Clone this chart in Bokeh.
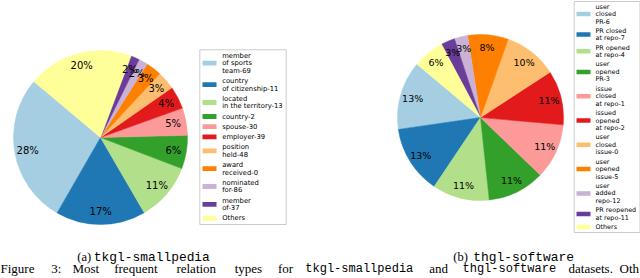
import math
from bokeh.plotting import figure
from bokeh.models import Range1d, ColumnDataSource
from bokeh.core.properties import value
from bokeh.embed import file_html
from bokeh.resources import INLINE
from bokeh.palettes import Paired12

# ---------------- data ----------------
left_labels = [
    "member\nof sports\nteam-69",
    "country\nof citizenship-11",
    "located\nin the territory-13",
    "country-2",
    "spouse-30",
    "employer-39",
    "position\nheld-48",
    "award\nreceived-0",
    "nominated\nfor-86",
    "member\nof-37",
    "Others",
]
left_values = [27.8, 16.7, 10.8, 6.2, 5.1, 4.2, 3.4, 2.9, 1.7, 1.6, 19.6]

right_labels = [
    "user\nclosed\nPR-6",
    "PR closed\nat repo-7",
    "PR opened\nat repo-4",
    "user\nopened\nPR-3",
    "issue\nclosed\nat repo-1",
    "issued\nopened\nat repo-2",
    "user\nclosed\nissue-0",
    "user\nopened\nissue-5",
    "user\nadded\nrepo-12",
    "PR reopened\nat repo-11",
    "Others",
]
right_values = [13.4, 13.3, 11.1, 11.1, 10.8, 10.6, 10.4, 7.9, 2.6, 2.7, 6.1]

caption_prefixes = ["(a)", "(b)"]
caption_names = ["tkgl-smallpedia", "thgl-software"]

# figure caption line (the reference window cuts it after "Oth"); (word, is_monospace)
figure_caption_words = [
    ("Figure", False), ("3:", False), ("Most", False), ("frequent", False),
    ("relation", False), ("types", False), ("for", False), ("tkgl-smallpedia", True),
    ("and", False), ("thgl-software", True), ("datasets.", False), ("Oth", False),
]
figure_caption_x = [0, 50.8, 71.9, 113.7, 175.9, 234.2, 277.5, 304.8, 428.8, 462.0, 568.0, 619.0]

colors = list(Paired12[:11])

# ---------------- figure ----------------
W, H = 640, 278
p = figure(width=W, height=H, x_range=Range1d(0, W), y_range=Range1d(0, H),
           output_backend="svg", toolbar_location=None,
           x_axis_location=None, y_axis_location=None, min_border=0)
p.grid.visible = False
p.outline_line_color = None
p.background_fill_color = "white"
p.border_fill_color = "white"


def Y(yi):
    return H - yi


def pie(cx, cy, r, values, fs, start=140.0, pct=0.85):
    total = float(sum(values))
    cum = 0.0
    s, e, lx, ly, txt = [], [], [], [], []
    for v in values:
        a0 = start + cum / total * 360.0
        cum += v
        a1 = start + cum / total * 360.0
        s.append(math.radians(a0))
        e.append(math.radians(a1))
        am = math.radians((a0 + a1) / 2)
        lx.append(cx + pct * r * math.cos(am))
        ly.append(Y(cy) + pct * r * math.sin(am))
        txt.append(f"{v / total * 100:.0f}%")
    src = ColumnDataSource(dict(s=s, e=e, c=colors, lx=lx, ly=ly, t=txt))
    p.wedge(x=cx, y=Y(cy), radius=r, start_angle="s", end_angle="e", direction="anticlock",
            fill_color="c", line_color="c", line_width=0.5, source=src)
    p.text(x="lx", y="ly", text="t", source=src, text_font=value("DejaVu Sans"),
           text_font_size=f"{fs}px", text_color="black", text_align="center",
           text_baseline="middle")


def legend(labels, box, px0, px1, tx, first, L, G, fs, ph):
    x0, y0, x1, y1 = box
    p.quad(left=x0, right=x1, top=Y(y0), bottom=Y(y1), fill_color="white", fill_alpha=0.8,
           line_color="#cccccc", line_width=1)
    y = first
    pl, pr, pt, pb, pc = [], [], [], [], []
    tx_, ty_, tt_ = [], [], []
    for label, c in zip(labels, colors):
        lines = label.split("\n")
        ys = [y + k * L for k in range(len(lines))]
        mid = (ys[0] + ys[-1]) / 2
        pl.append(px0); pr.append(px1)
        pt.append(Y(mid - ph / 2)); pb.append(Y(mid + ph / 2)); pc.append(c)
        for ln, yy in zip(lines, ys):
            tx_.append(tx); ty_.append(Y(yy)); tt_.append(ln)
        y = ys[-1] + L + G
    p.quad(left=pl, right=pr, top=pt, bottom=pb, fill_color=pc, line_color=None)
    p.text(x=tx_, y=ty_, text=tt_, text_font=value("DejaVu Sans"), text_font_size=f"{fs}px",
           text_color="black", text_align="left", text_baseline="middle")


# left chart
pie(100, 137, 87, left_values, 10)
legend(left_labels, (199.3, 49.3, 285.7, 224.0), 202, 216, 221.7, 55.0, 7.6, 2.6, 6.8, 4.8)

# right chart
pie(480, 117, 83, right_values, 9.5)
legend(right_labels, (573.7, 1.0, 639.5, 232.0), 576, 590, 595, 6.0, 7.5, 1.8, 6.4, 4.5)

# sub-captions
p.text(x=[76.8, 452.8], y=[Y(256.5)] * 2, text=caption_prefixes, text_font=value("Liberation Serif"),
       text_font_size="12.5px", text_color="black", text_align="left", text_baseline="alphabetic")
p.text(x=[93.3, 472.8], y=[Y(256.5)] * 2, text=caption_names, text_font=value("Liberation Mono"),
       text_font_size="12.9px", text_color="black", text_align="left", text_baseline="alphabetic")

# figure caption line
sx = [x for x, (w, m) in zip(figure_caption_x, figure_caption_words) if not m]
st = [w for (w, m) in figure_caption_words if not m]
mx = [x for x, (w, m) in zip(figure_caption_x, figure_caption_words) if m]
mt = [w for (w, m) in figure_caption_words if m]
p.text(x=sx, y=[Y(275)] * len(sx), text=st, text_font=value("Liberation Serif"),
       text_font_size="13px", text_color="black", text_align="left", text_baseline="bottom")
p.text(x=mx, y=[Y(275)] * len(mx), text=mt, text_font=value("Liberation Mono"),
       text_font_size="12px", text_color="black", text_align="left", text_baseline="bottom")

open("out.html", "w").write(file_html(p, INLINE))
